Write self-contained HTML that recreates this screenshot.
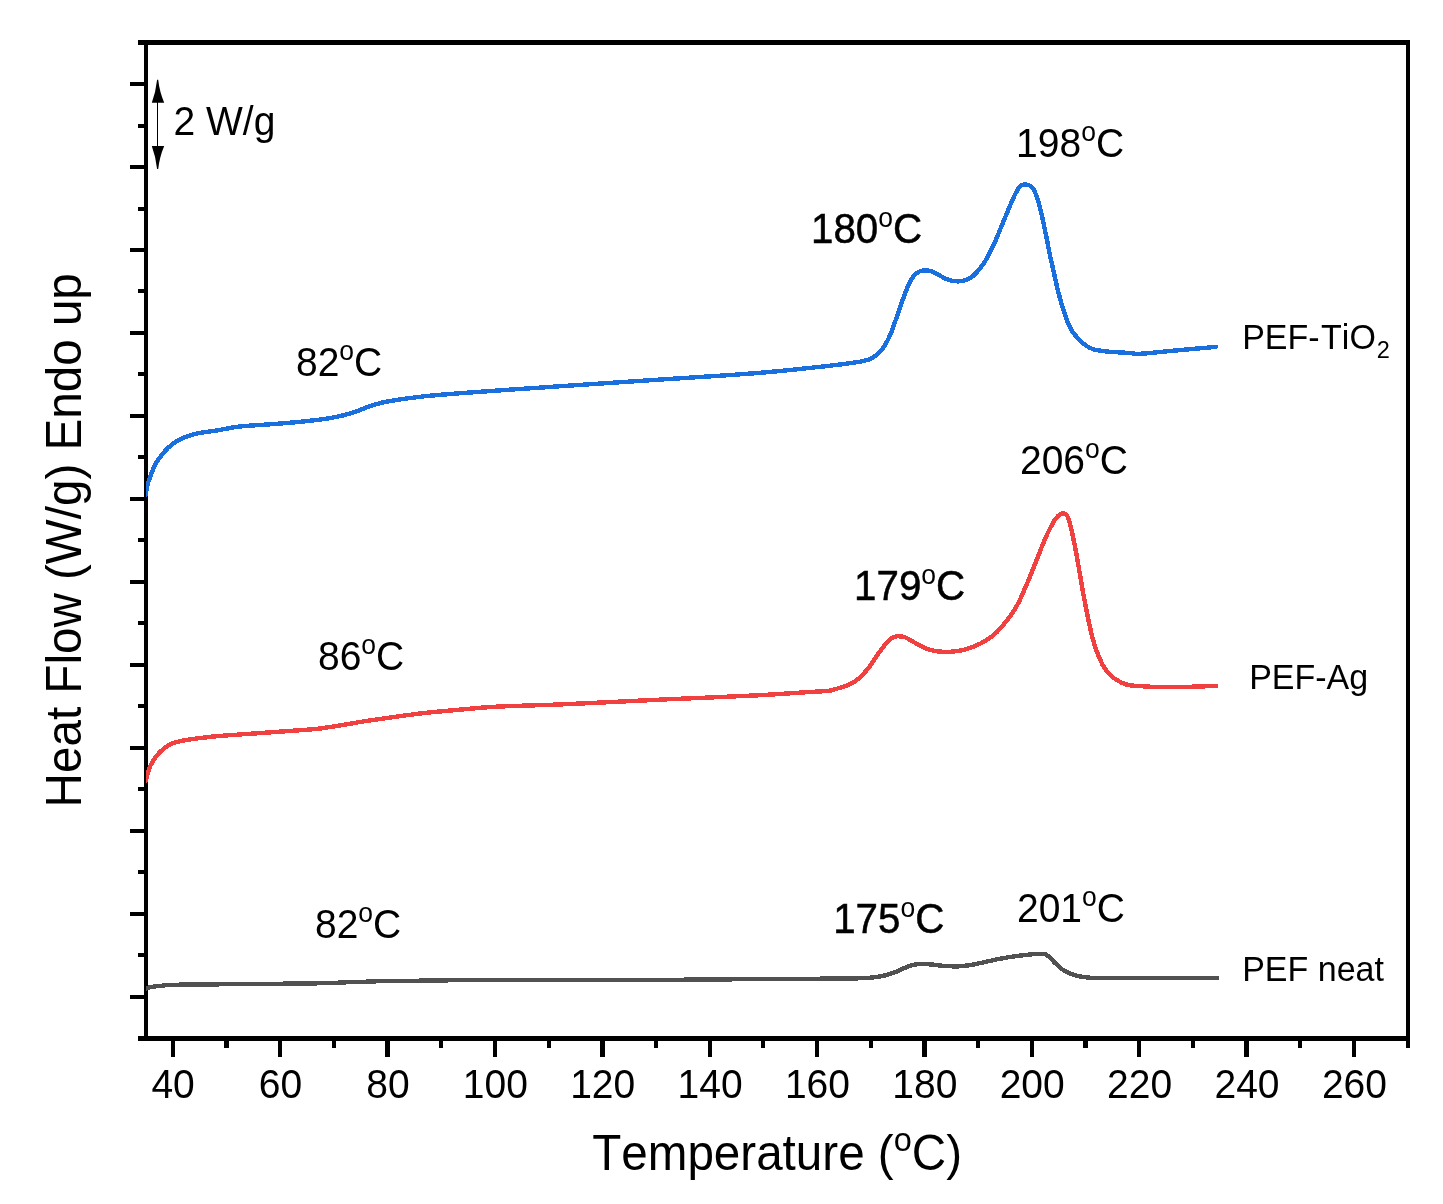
<!DOCTYPE html>
<html><head><meta charset="utf-8"><title>DSC heat flow</title>
<style>
html,body{margin:0;padding:0;background:#fff;}
body{width:1443px;height:1204px;overflow:hidden;}
svg{display:block;will-change:transform;}
text{font-family:"Liberation Sans",sans-serif;fill:#000;font-kerning:none;}
</style></head><body>
<svg width="1443" height="1204" viewBox="0 0 1443 1204">
<rect width="1443" height="1204" fill="#fff"/>
<g fill="#000" shape-rendering="crispEdges">
<rect x="138" y="40" width="1272" height="5"/>
<rect x="138" y="1036" width="1272" height="5"/>
<rect x="144" y="40" width="4" height="1001"/>
<rect x="1406" y="40" width="4" height="1008"/>
<rect x="130" y="82" width="15" height="4"/>
<rect x="130" y="165" width="15" height="4"/>
<rect x="130" y="248" width="15" height="4"/>
<rect x="130" y="331" width="15" height="4"/>
<rect x="130" y="414" width="15" height="4"/>
<rect x="130" y="497" width="15" height="4"/>
<rect x="130" y="580" width="15" height="4"/>
<rect x="130" y="663" width="15" height="4"/>
<rect x="130" y="746" width="15" height="4"/>
<rect x="130" y="829" width="15" height="4"/>
<rect x="130" y="912" width="15" height="4"/>
<rect x="130" y="995" width="15" height="4"/>
<rect x="138" y="124" width="7" height="4"/>
<rect x="138" y="207" width="7" height="4"/>
<rect x="138" y="289" width="7" height="4"/>
<rect x="138" y="372" width="7" height="4"/>
<rect x="138" y="455" width="7" height="4"/>
<rect x="138" y="538" width="7" height="4"/>
<rect x="138" y="621" width="7" height="4"/>
<rect x="138" y="704" width="7" height="4"/>
<rect x="138" y="787" width="7" height="4"/>
<rect x="138" y="870" width="7" height="4"/>
<rect x="138" y="953" width="7" height="4"/>
<rect x="170.5" y="1040" width="4.4" height="16.8"/>
<rect x="277.9" y="1040" width="4.4" height="16.8"/>
<rect x="385.3" y="1040" width="4.4" height="16.8"/>
<rect x="492.7" y="1040" width="4.4" height="16.8"/>
<rect x="600.1" y="1040" width="4.4" height="16.8"/>
<rect x="707.5" y="1040" width="4.4" height="16.8"/>
<rect x="814.8" y="1040" width="4.4" height="16.8"/>
<rect x="922.2" y="1040" width="4.4" height="16.8"/>
<rect x="1029.6" y="1040" width="4.4" height="16.8"/>
<rect x="1137.0" y="1040" width="4.4" height="16.8"/>
<rect x="1244.4" y="1040" width="4.4" height="16.8"/>
<rect x="1351.8" y="1040" width="4.4" height="16.8"/>
<rect x="224.3" y="1040" width="4.2" height="7.8"/>
<rect x="331.7" y="1040" width="4.2" height="7.8"/>
<rect x="439.1" y="1040" width="4.2" height="7.8"/>
<rect x="546.5" y="1040" width="4.2" height="7.8"/>
<rect x="653.9" y="1040" width="4.2" height="7.8"/>
<rect x="761.2" y="1040" width="4.2" height="7.8"/>
<rect x="868.6" y="1040" width="4.2" height="7.8"/>
<rect x="976.0" y="1040" width="4.2" height="7.8"/>
<rect x="1083.4" y="1040" width="4.2" height="7.8"/>
<rect x="1190.8" y="1040" width="4.2" height="7.8"/>
<rect x="1298.2" y="1040" width="4.2" height="7.8"/>
</g>
<clipPath id="pc"><rect x="146" y="45" width="1260" height="991"/></clipPath>
<g clip-path="url(#pc)" fill="none" stroke-linecap="round" stroke-linejoin="round" stroke-width="4.4" shape-rendering="crispEdges">
<path d="M145.0,988.8C146.7,988.3 148.3,987.6 150.0,987.2C151.7,986.8 153.3,986.6 155.0,986.4C157.4,986.1 159.8,986.0 162.2,985.7C162.9,985.6 163.7,985.4 164.4,985.3C169.2,984.9 174.0,984.8 178.8,984.7C192.9,984.5 206.9,984.4 221.0,984.3C241.7,984.1 262.3,983.9 283.0,983.7C294.8,983.6 306.7,983.5 318.5,983.3C325.2,983.2 331.8,983.0 338.5,982.7C341.1,982.6 343.7,982.4 346.3,982.3C352.9,982.0 359.6,981.9 366.2,981.7C369.5,981.6 372.9,981.4 376.2,981.3C390.6,981.0 405.1,980.9 419.5,980.7C429.5,980.6 439.4,980.4 449.4,980.3C527.6,979.9 605.8,980.0 684.0,979.7C700.7,979.6 717.3,979.4 734.0,979.3C762.7,979.1 791.3,978.9 820.0,978.7C830.0,978.6 840.0,978.6 850.0,978.5C856.0,978.4 862.0,978.2 868.0,977.9C872.8,977.7 877.6,976.8 882.4,976.0C886.0,975.3 889.6,974.1 893.2,972.9C896.8,971.7 900.4,969.7 904.0,968.2C907.1,967.0 910.1,965.3 913.1,964.8C916.1,964.3 919.1,963.9 922.1,963.9C925.7,963.9 929.3,964.3 932.9,964.6C936.5,964.9 940.1,965.7 943.7,965.9C947.9,966.2 952.1,966.4 956.3,966.4C960.5,966.4 964.7,965.8 968.9,965.3C973.7,964.7 978.5,963.4 983.3,962.4C988.1,961.4 992.9,960.1 997.7,959.2C1002.5,958.3 1007.4,957.4 1012.2,956.7C1017.0,956.0 1021.8,955.4 1026.6,954.9C1030.2,954.5 1033.8,954.0 1037.4,954.0C1039.8,954.0 1042.2,954.0 1044.6,954.1C1045.8,954.1 1047.0,955.3 1048.2,956.1C1050.6,957.8 1053.0,961.1 1055.4,963.3C1057.8,965.5 1060.2,968.1 1062.6,969.6C1065.6,971.5 1068.6,973.1 1071.6,974.1C1075.2,975.3 1078.8,976.4 1082.4,976.9C1086.6,977.4 1090.8,978.0 1095.0,978.0C1099.8,978.0 1104.7,978.0 1109.5,978.0C1145.5,978.0 1181.4,978.0 1217.4,978.0" stroke="#515151"/>
<path d="M145.6,781.3C146.2,779.1 146.7,776.8 147.3,774.8C148.0,772.4 148.6,769.9 149.3,768.2C150.3,765.7 151.3,763.9 152.3,762.2C153.6,759.9 155.0,757.9 156.3,756.2C157.8,754.3 159.4,752.6 160.9,751.2C162.7,749.6 164.4,748.1 166.2,746.9C168.4,745.4 170.7,744.0 172.9,743.2C175.8,742.2 178.6,741.5 181.5,740.9C184.8,740.2 188.2,739.7 191.5,739.2C194.8,738.8 198.1,738.3 201.4,737.9C205.8,737.4 210.3,736.8 214.7,736.4C226.8,735.3 238.8,734.6 250.9,733.7C265.7,732.6 280.4,731.7 295.2,730.6C302.6,730.0 310.0,729.6 317.4,728.8C324.8,728.0 332.2,726.7 339.6,725.5C347.0,724.3 354.4,722.9 361.8,721.7C369.2,720.5 376.6,719.5 384.0,718.4C391.4,717.3 398.7,716.3 406.1,715.3C413.5,714.3 420.9,713.4 428.3,712.6C438.7,711.5 449.0,710.6 459.4,709.7C471.1,708.7 482.7,707.4 494.4,706.8C515.1,705.7 535.8,705.4 556.5,704.6C592.0,703.2 627.4,701.1 662.9,699.5C695.3,698.0 727.6,696.9 760.0,695.2C776.7,694.3 793.3,693.1 810.0,692.0C816.7,691.6 823.3,691.4 830.0,690.6C833.3,690.2 836.7,688.7 840.0,687.7C842.9,686.8 845.8,686.0 848.7,684.8C851.2,683.7 853.7,682.2 856.2,680.5C858.7,678.7 861.2,676.2 863.7,673.6C865.8,671.4 867.8,668.9 869.9,666.1C872.0,663.3 874.1,659.8 876.2,656.8C878.3,653.8 880.3,650.7 882.4,648.0C884.1,645.8 885.7,643.4 887.4,641.8C889.1,640.2 890.7,638.4 892.4,637.7C894.3,636.9 896.1,636.2 898.0,636.2C900.1,636.2 902.1,636.6 904.2,637.0C906.5,637.5 908.8,639.3 911.1,640.5C914.0,642.0 916.9,644.1 919.8,645.5C922.7,646.9 925.6,648.4 928.5,649.3C931.4,650.2 934.4,651.2 937.3,651.4C940.6,651.7 943.9,651.9 947.2,651.9C950.6,651.9 953.9,651.5 957.2,651.1C960.5,650.7 963.9,649.8 967.2,648.9C970.5,648.0 973.9,646.6 977.2,645.1C980.5,643.7 983.9,641.8 987.2,639.7C990.1,637.8 993.0,635.7 995.9,633.0C998.9,630.3 1002.0,626.5 1005.0,622.8C1007.5,619.8 1010.0,616.6 1012.5,612.9C1014.6,609.8 1016.6,606.3 1018.7,602.3C1020.8,598.3 1022.8,593.2 1024.9,588.5C1027.0,583.7 1029.1,578.7 1031.2,573.6C1033.3,568.6 1035.3,563.2 1037.4,558.0C1039.5,552.8 1041.5,547.2 1043.6,542.4C1045.7,537.5 1047.8,532.8 1049.9,528.7C1051.6,525.5 1053.2,522.2 1054.9,519.9C1056.3,517.9 1057.8,515.9 1059.2,515.0C1060.4,514.2 1061.5,513.3 1062.7,513.3C1063.8,513.3 1065.0,513.7 1066.1,514.3C1067.1,514.8 1068.2,518.2 1069.2,521.2C1070.2,524.2 1071.3,529.1 1072.3,533.7C1073.6,539.3 1074.8,545.7 1076.1,552.4C1077.3,558.9 1078.6,566.6 1079.8,573.6C1081.0,580.7 1082.3,588.0 1083.5,594.8C1085.1,603.2 1086.7,611.7 1088.2,619.0C1089.8,626.7 1091.5,634.2 1093.1,639.9C1094.8,645.8 1096.4,650.7 1098.1,654.8C1100.0,659.4 1101.8,663.7 1103.7,666.7C1105.8,670.1 1107.8,672.8 1109.9,674.8C1112.4,677.2 1114.9,679.0 1117.4,680.4C1120.3,682.1 1123.2,683.7 1126.1,684.4C1128.1,684.9 1130.0,685.3 1132.0,685.5C1134.0,685.7 1136.0,685.9 1138.0,686.0C1140.7,686.2 1143.3,686.4 1146.0,686.5C1149.7,686.7 1153.3,687.0 1157.0,687.0C1165.3,687.0 1173.7,687.0 1182.0,686.9C1188.3,686.9 1194.7,686.6 1201.0,686.4C1206.0,686.3 1211.0,686.1 1216.0,686.0" stroke="#F14040"/>
<path d="M145.6,495.0C145.9,493.0 146.3,490.7 146.6,489.0C147.1,486.7 147.5,484.8 148.0,483.2C148.6,481.0 149.3,479.6 149.9,477.8C150.9,475.1 151.8,472.1 152.8,469.9C154.1,466.8 155.5,464.1 156.8,461.9C158.5,459.0 160.3,456.8 162.0,454.6C164.1,452.0 166.2,449.5 168.3,447.6C170.9,445.2 173.6,443.2 176.2,441.6C179.3,439.7 182.4,438.2 185.5,437.0C188.6,435.8 191.7,434.7 194.8,434.0C198.1,433.2 201.5,432.7 204.8,432.2C208.1,431.7 211.4,431.3 214.7,430.8C223.1,429.5 231.4,427.4 239.8,426.5C250.9,425.4 262.0,425.0 273.1,424.1C284.2,423.2 295.2,422.4 306.3,421.2C313.7,420.4 321.1,419.5 328.5,418.3C333.7,417.5 338.8,416.5 344.0,415.2C348.4,414.1 352.9,412.5 357.3,411.0C361.7,409.5 366.2,407.3 370.6,405.9C375.0,404.5 379.5,403.1 383.9,402.2C391.3,400.6 398.7,399.6 406.1,398.6C413.5,397.6 420.9,396.6 428.3,395.9C438.7,394.9 449.0,394.1 459.4,393.3C491.8,390.8 524.1,388.7 556.5,386.5C592.0,384.1 627.4,381.8 662.9,379.4C695.3,377.2 727.6,375.5 760.0,372.8C780.0,371.2 800.0,369.0 820.0,366.8C830.0,365.7 840.0,364.6 850.0,363.2C853.5,362.7 856.9,362.3 860.4,361.6C863.2,361.1 865.9,360.5 868.7,359.5C871.1,358.6 873.6,357.2 876.0,355.4C878.1,353.9 880.1,351.7 882.2,349.1C883.9,346.9 885.7,344.0 887.4,340.8C888.8,338.2 890.2,335.0 891.6,331.5C893.0,328.1 894.3,323.9 895.7,320.0C897.1,316.0 898.5,311.6 899.9,307.6C901.3,303.6 902.7,299.8 904.1,296.1C905.5,292.5 906.8,288.6 908.2,285.7C909.6,282.7 911.0,279.9 912.4,277.9C913.8,276.0 915.1,274.3 916.5,273.3C917.9,272.3 919.3,271.3 920.7,271.0C922.4,270.6 924.2,270.4 925.9,270.4C927.6,270.4 929.4,270.8 931.1,271.2C933.5,271.8 936.0,273.5 938.4,274.8C940.8,276.0 943.2,277.7 945.6,278.7C947.7,279.5 949.8,280.4 951.9,280.7C954.0,281.0 956.0,281.4 958.1,281.4C960.2,281.4 962.2,280.9 964.3,280.5C966.4,280.0 968.5,279.1 970.6,277.9C972.7,276.7 974.7,274.4 976.8,272.2C978.9,270.0 981.0,267.4 983.1,264.4C984.8,261.9 986.6,258.8 988.3,255.6C990.0,252.4 991.8,248.9 993.5,245.2C996.0,239.8 998.5,233.4 1001.0,227.4C1002.7,223.3 1004.5,219.1 1006.2,214.9C1007.9,210.7 1009.7,206.3 1011.4,202.4C1013.1,198.5 1014.9,194.4 1016.6,191.5C1018.0,189.2 1019.3,186.5 1020.7,185.8C1022.1,185.0 1023.5,184.4 1024.9,184.4C1026.3,184.4 1027.7,184.8 1029.1,185.3C1030.5,185.8 1031.8,187.2 1033.2,188.9C1034.6,190.7 1036.0,194.4 1037.4,198.3C1038.8,202.2 1040.1,208.2 1041.5,213.9C1042.9,219.8 1044.3,226.8 1045.7,233.6C1047.1,240.3 1048.5,247.8 1049.8,254.4C1051.2,261.0 1052.6,266.9 1054.0,273.1C1055.4,279.3 1056.8,286.1 1058.2,291.6C1059.8,297.8 1061.3,303.2 1062.9,308.2C1064.4,313.1 1066.0,318.0 1067.5,321.7C1069.1,325.4 1070.6,328.6 1072.2,331.1C1073.9,333.8 1075.7,335.8 1077.4,337.8C1079.1,339.8 1080.9,341.6 1082.6,343.0C1084.3,344.4 1086.1,345.7 1087.8,346.7C1089.9,347.9 1092.0,348.9 1094.1,349.5C1096.9,350.2 1099.6,350.6 1102.4,351.0C1105.9,351.4 1109.3,351.8 1112.8,352.0C1116.3,352.2 1119.7,352.4 1123.2,352.6C1125.8,352.8 1128.4,353.0 1131.0,353.2C1133.0,353.4 1135.0,353.9 1137.0,353.9C1139.0,353.9 1141.0,353.7 1143.0,353.6C1145.3,353.5 1147.7,353.2 1150.0,353.0C1153.3,352.7 1156.7,352.3 1160.0,352.0C1163.3,351.7 1166.7,351.3 1170.0,351.0C1173.3,350.7 1176.7,350.4 1180.0,350.1C1186.7,349.5 1193.3,348.9 1200.0,348.3C1205.3,347.8 1210.5,347.4 1215.8,346.9" stroke="#1A6FDF"/>
</g>
<text transform="translate(173.1,1098.2) scale(1,1.04)" font-size="39" text-anchor="middle">40</text>
<text transform="translate(280.5,1098.2) scale(1,1.04)" font-size="39" text-anchor="middle">60</text>
<text transform="translate(387.9,1098.2) scale(1,1.04)" font-size="39" text-anchor="middle">80</text>
<text transform="translate(495.3,1098.2) scale(1,1.04)" font-size="39" text-anchor="middle">100</text>
<text transform="translate(602.7,1098.2) scale(1,1.04)" font-size="39" text-anchor="middle">120</text>
<text transform="translate(710.1,1098.2) scale(1,1.04)" font-size="39" text-anchor="middle">140</text>
<text transform="translate(817.4,1098.2) scale(1,1.04)" font-size="39" text-anchor="middle">160</text>
<text transform="translate(924.8,1098.2) scale(1,1.04)" font-size="39" text-anchor="middle">180</text>
<text transform="translate(1032.2,1098.2) scale(1,1.04)" font-size="39" text-anchor="middle">200</text>
<text transform="translate(1139.6,1098.2) scale(1,1.04)" font-size="39" text-anchor="middle">220</text>
<text transform="translate(1247.0,1098.2) scale(1,1.04)" font-size="39" text-anchor="middle">240</text>
<text transform="translate(1354.4,1098.2) scale(1,1.04)" font-size="39" text-anchor="middle">260</text>
<g fill="#000"><rect x="157.05" y="95" width="1.2" height="60" shape-rendering="crispEdges"/><path d="M157.1,79.8 L158.2,79.8 Q159.6,92 164.2,102.8 L151.8,102.8 Q155.8,92 157.1,79.8Z"/><path d="M157.1,169 L158.2,169 Q159.6,157 164.2,146.1 L151.8,146.1 Q155.8,157 157.1,169Z"/></g>
<text transform="translate(173.5,134.5) scale(1,1.04)" font-size="39">2 W/g</text>
<text transform="translate(1016.1,157.0) scale(1,1.04)" font-size="39" text-anchor="start">198<tspan font-size="26.5" dy="-15.38" stroke="none">o</tspan><tspan dy="15.38">C</tspan></text>
<text transform="translate(811.0,242.5) scale(1,1.04)" font-size="40.3" stroke="#000" stroke-width="0.5" text-anchor="start">180<tspan font-size="26.5" dy="-15.38" stroke="none">o</tspan><tspan dy="15.38">C</tspan></text>
<text transform="translate(1020.0,474.0) scale(1,1.04)" font-size="39" text-anchor="start">206<tspan font-size="26.5" dy="-15.38" stroke="none">o</tspan><tspan dy="15.38">C</tspan></text>
<text transform="translate(854.1,600.4) scale(1,1.04)" font-size="40.3" stroke="#000" stroke-width="0.5" text-anchor="start">179<tspan font-size="26.5" dy="-15.38" stroke="none">o</tspan><tspan dy="15.38">C</tspan></text>
<text transform="translate(833.2,933.3) scale(1,1.04)" font-size="40.3" stroke="#000" stroke-width="0.5" text-anchor="start">175<tspan font-size="26.5" dy="-15.38" stroke="none">o</tspan><tspan dy="15.38">C</tspan></text>
<text transform="translate(1017.0,921.5) scale(1,1.04)" font-size="39" text-anchor="start">201<tspan font-size="26.5" dy="-15.38" stroke="none">o</tspan><tspan dy="15.38">C</tspan></text>
<text transform="translate(296.0,375.5) scale(1,1.04)" font-size="39" text-anchor="start">82<tspan font-size="26.5" dy="-15.38" stroke="none">o</tspan><tspan dy="15.38">C</tspan></text>
<text transform="translate(318.0,669.9) scale(1,1.04)" font-size="39" text-anchor="start">86<tspan font-size="26.5" dy="-15.38" stroke="none">o</tspan><tspan dy="15.38">C</tspan></text>
<text transform="translate(315.0,937.7) scale(1,1.04)" font-size="39" text-anchor="start">82<tspan font-size="26.5" dy="-15.38" stroke="none">o</tspan><tspan dy="15.38">C</tspan></text>
<text transform="translate(1242.2,348.8) scale(1,1.04)" font-size="34">PEF-<tspan dx="1.5">TiO</tspan><tspan font-size="23.5" dx="0.8" dy="8.37">2</tspan></text>
<text transform="translate(1249.2,688.8) scale(1,1.04)" font-size="34">PEF-Ag</text>
<text transform="translate(1242.2,980.9) scale(1,1.04)" font-size="34">PEF neat</text>
<text transform="translate(777.1,1169.9) scale(1,1.04)" font-size="47.6" text-anchor="middle">Temperature (<tspan font-size="32.5" dy="-18.27">o</tspan><tspan dy="18.27">C)</tspan></text>
<text transform="translate(81,540.3) rotate(-90) scale(1,1.04)" font-size="47.6" text-anchor="middle">Heat Flow (W/g) Endo up</text>
</svg></body></html>
